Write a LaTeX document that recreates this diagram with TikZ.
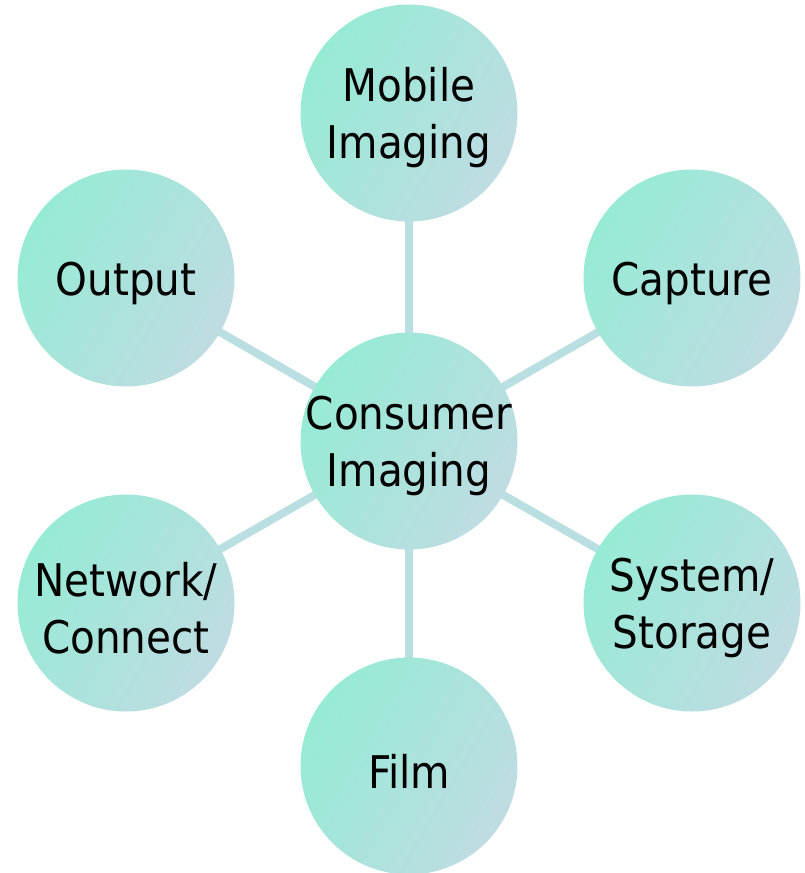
\documentclass[tikz,border=0pt]{standalone}
\usepackage{fontspec}
\setmainfont{DejaVu Sans Condensed}
\definecolor{cgreen}{HTML}{96EBD5}
\definecolor{cmid}{HTML}{9EE8D7}
\definecolor{cblue}{HTML}{BFDCE2}
\definecolor{linkc}{HTML}{BADFE3}
\begin{document}
\begin{tikzpicture}[x=1pt,y=-1pt,
  bubble/.style={circle, minimum size=217pt, inner sep=-30pt,
    top color=cgreen, middle color=cmid, bottom color=cblue, shading angle=60},
  label/.style={align=center, font=\fontsize{45}{57}\selectfont, text=black, inner sep=0pt, yshift=-5pt},
  link/.style={draw=linkc, line width=8pt}]
\useasboundingbox[fill=white] (0,0) rectangle (804,873);
\coordinate (cc) at (409,441);
\coordinate (cm) at (409,113);
\coordinate (cca) at (692,278);
\coordinate (co) at (126,278);
\coordinate (cn) at (126,603);
\coordinate (cs) at (692,603);
\coordinate (cf) at (409,766);
\foreach \t in {cm,cca,co,cn,cs,cf} \draw[link] (cc) -- (\t);
\node[bubble] (mobile) at (cm) {};
\node[bubble] (capture) at (cca) {};
\node[bubble] (output) at (co) {};
\node[bubble] (network) at (cn) {};
\node[bubble] (system) at (cs) {};
\node[bubble] (film) at (cf) {};
\node[bubble] (consumer) at (cc) {};
\node[label] (tmobile) at (mobile) {Mobile\\Imaging};
\node[label] (tcapture) at (capture) {Capture};
\node[label] (toutput) at (output) {Output};
\node[label] (tnetwork) at (network) {Network/\\Connect};
\node[label] (tsystem) at (system) {System/\\Storage};
\node[label] (tfilm) at (film) {Film};
\node[label] (tconsumer) at (consumer) {Consumer\\Imaging};
\end{tikzpicture}
\end{document}
